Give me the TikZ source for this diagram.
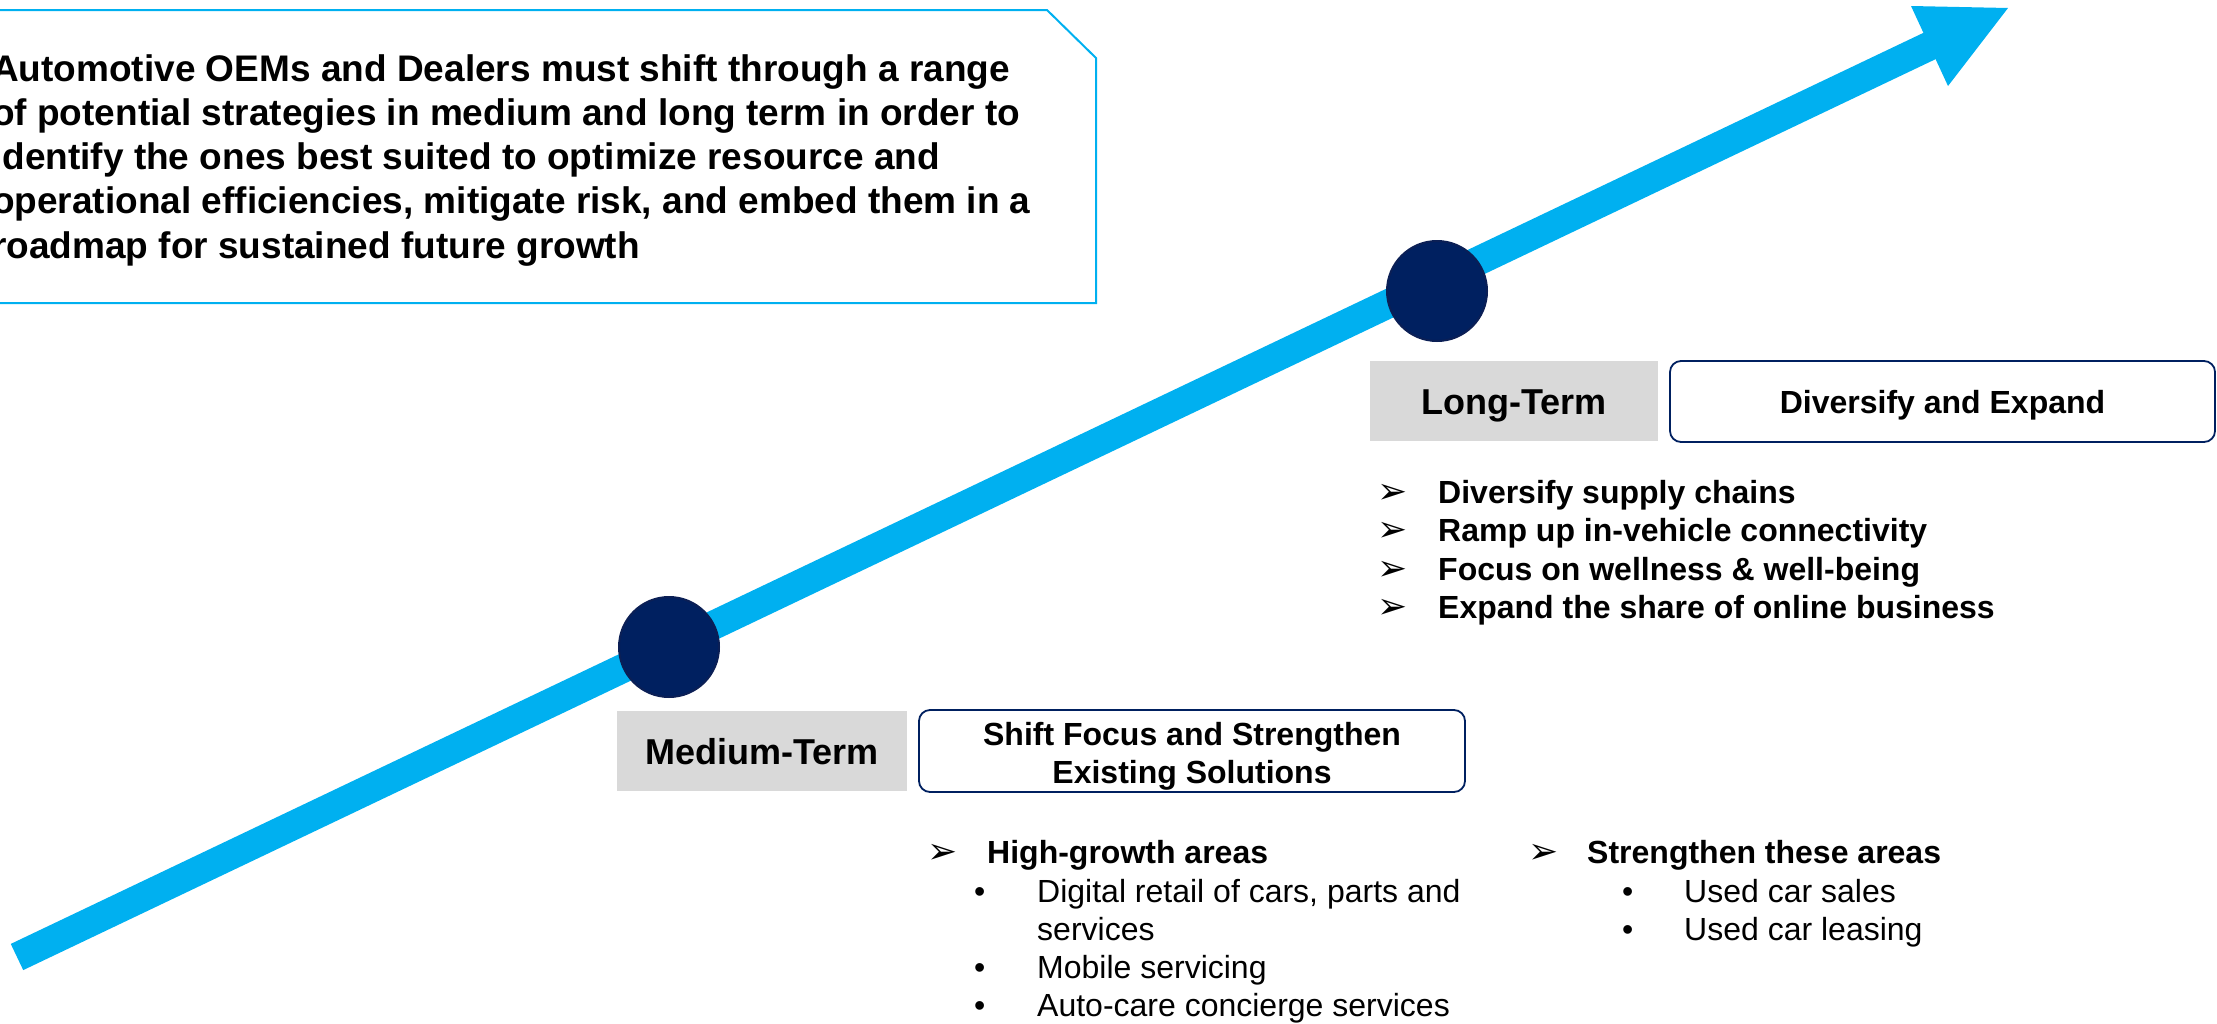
\documentclass[tikz,border=0pt]{standalone}
\usepackage{fontspec}
\setmainfont{Liberation Sans}
\newfontfamily\symfont{DejaVu Sans}
\definecolor{cyanA}{HTML}{00B0F0}
\definecolor{navy}{HTML}{002060}
\definecolor{navyedge}{HTML}{0B1F55}
\definecolor{grayT}{HTML}{D9D9D9}
\tikzset{
  calltext/.style={anchor=base west, inner sep=0pt, font=\fontsize{37}{44}\selectfont\bfseries},
  termbox/.style={fill=grayT, inner sep=0pt, minimum height=80pt, text height=26pt, text depth=0pt,
                  font=\fontsize{36}{43}\selectfont\bfseries},
  themebox/.style={draw=navy, line width=1.8pt, rounded corners=11pt, fill=white, inner sep=0pt},
  themetext/.style={anchor=base, inner sep=0pt, font=\fontsize{32}{38}\selectfont\bfseries},
  dotnode/.style={circle, fill=navy, draw=navyedge, line width=2pt, minimum size=100pt, inner sep=0pt},
  boldline/.style={anchor=base west, inner sep=0pt, font=\fontsize{32}{38}\selectfont\bfseries},
  plainline/.style={anchor=base west, inner sep=0pt, font=\fontsize{32}{38}\selectfont},
  arrbullet/.style={anchor=base west, inner sep=0pt, font=\symfont\fontsize{36}{40}\selectfont},
  dotbullet/.style={anchor=base west, inner sep=0pt, font=\fontsize{32}{38}\selectfont}
}
\begin{document}
\begin{tikzpicture}[x=1pt,y=-1pt]
\useasboundingbox (0,0) rectangle (2217,1023);
% growth arrow
\coordinate (tail) at (17,957);
\coordinate (shaftend) at (1940,41);
\coordinate (tip) at (2008,8);
\coordinate (hl) at (1911,6);
\coordinate (hr) at (1948,86);
\draw[cyanA, line width=29pt] (tail) -- (shaftend);
\fill[cyanA] (tip) -- (hl) -- (hr) -- cycle;
% milestones
\node[dotnode] (c1) at (669,647) {};
\node[dotnode] (c2) at (1437,291) {};
% callout
\draw[cyanA, line width=2pt] (-5,10) -- (1047,10) -- (1096,58) -- (1096,303) -- (-5,303) -- cycle;
\node[calltext] (t1) at (-8,81) {Automotive OEMs and Dealers must shift through a range};
\node[calltext] (t2) at (-8,125) {of potential strategies in medium and long term in order to};
\node[calltext] (t3) at (-8,169) {identify the ones best suited to optimize resource and};
\node[calltext] (t4) at (-8,213) {operational efficiencies, mitigate risk, and embed them in a};
\node[calltext] (t5) at (-8,258) {roadmap for sustained future growth};
% long term
\node[termbox, minimum width=288pt] (lt) at (1514,401) {Long-Term};
\node[themebox, minimum width=545pt, minimum height=81pt] (lth) at (1942.5,401.5) {};
\node[themetext] (ltht) at (1942.5,413) {Diversify and Expand};
\node[arrbullet] (la1) at (1377,503) {➢};
\node[boldline] (l1) at (1438,503) {Diversify supply chains};
\node[arrbullet] (la2) at (1377,541) {➢};
\node[boldline] (l2) at (1438,541) {Ramp up in-vehicle connectivity};
\node[arrbullet] (la3) at (1377,580) {➢};
\node[boldline] (l3) at (1438,580) {Focus on wellness \& well-being};
\node[arrbullet] (la4) at (1377,618) {➢};
\node[boldline] (l4) at (1438,618) {Expand the share of online business};
% medium term
\node[termbox, minimum width=290pt] (mt) at (762,751) {Medium-Term};
\node[themebox, minimum width=546pt, minimum height=82pt] (mth) at (1192,751) {};
\node[themetext] (mtht1) at (1192,745) {Shift Focus and Strengthen};
\node[themetext] (mtht2) at (1192,783) {Existing Solutions};
\node[arrbullet] (ma) at (927,863) {➢};
\node[boldline] (mh) at (987,863) {High-growth areas};
\node[dotbullet] (mb1) at (974,902) {•};
\node[plainline] (m1) at (1037,902) {Digital retail of cars, parts and};
\node[plainline] (m1b) at (1037,940) {services};
\node[dotbullet] (mb2) at (974,978) {•};
\node[plainline] (m2) at (1037,978) {Mobile servicing};
\node[dotbullet] (mb3) at (974,1016) {•};
\node[plainline] (m3) at (1037,1016) {Auto-care concierge services};
\node[arrbullet] (sa) at (1528,863) {➢};
\node[boldline] (sh) at (1587,863) {Strengthen these areas};
\node[dotbullet] (sb1) at (1622,902) {•};
\node[plainline] (s1) at (1684,902) {Used car sales};
\node[dotbullet] (sb2) at (1622,940) {•};
\node[plainline] (s2) at (1684,940) {Used car leasing};
\end{tikzpicture}
\end{document}
